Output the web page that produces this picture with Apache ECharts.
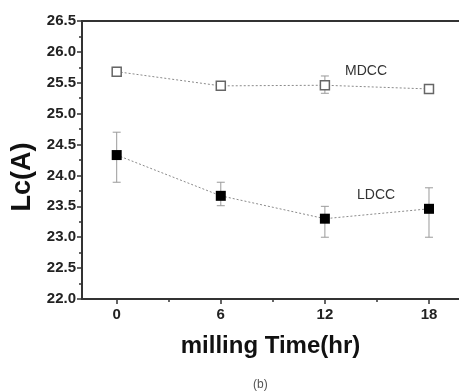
<!DOCTYPE html>
<html><head><meta charset="utf-8">
<script src="https://cdn.jsdelivr.net/npm/echarts@6/dist/echarts.min.js"></script>
<style>html,body{margin:0;padding:0;background:#fff}#c{width:459px;height:392px}</style>
</head><body><div id="c"></div>
<script>
const millingTime = [0, 6, 12, 18];
const mdcc = [25.68, 25.45, 25.46, 25.40];
const mdccLow = [25.62, 25.40, 25.33, 25.35];
const mdccHigh = [25.75, 25.52, 25.61, 25.45];
const ldcc = [24.33, 23.67, 23.30, 23.46];
const ldccLow = [23.89, 23.51, 23.00, 23.00];
const ldccHigh = [24.70, 23.89, 23.50, 23.80];
const xMajorTicks = [0, 6, 12, 18];
const xMinorTicks = [3, 9, 15];

const chart = echarts.init(document.getElementById('c'));
const pts = (ys) => millingTime.map((x, i) => [x, ys[i]]);
const errData = (lo, hi) => millingTime.map((x, i) => [x, lo[i], hi[i]]);
function errRender(params, api) {
  const x = api.value(0);
  const lo = api.coord([x, api.value(1)]);
  const hi = api.coord([x, api.value(2)]);
  const w = 4;
  const style = { stroke: '#9a9a9a', lineWidth: 1 };
  return { type: 'group', children: [
    { type: 'line', shape: { x1: lo[0], y1: lo[1], x2: hi[0], y2: hi[1] }, style },
    { type: 'line', shape: { x1: lo[0]-w, y1: lo[1], x2: lo[0]+w, y2: lo[1] }, style },
    { type: 'line', shape: { x1: hi[0]-w, y1: hi[1], x2: hi[0]+w, y2: hi[1] }, style }
  ]};
}
const labelFont = { fontFamily: 'Liberation Sans', fontWeight: 'bold', fontSize: 15, color: '#222' };
const XMIN = -2, XMAX = 19.73;
chart.setOption({
  animation: false,
  grid: { left: 82, top: 21, right: 0, bottom: 93 },
  xAxis: [{
    type: 'value', min: XMIN, max: XMAX,
    axisLine: { show: true, onZero: false, lineStyle: { color: '#333', width: 2 } },
    axisTick: { show: true, customValues: xMajorTicks, length: 5, lineStyle: { color: '#333', width: 1.5 } },
    axisLabel: Object.assign({ customValues: xMajorTicks, margin: 8 }, labelFont),
    splitLine: { show: false },
    name: 'milling Time(hr)', nameLocation: 'middle', nameGap: 35,
    nameTextStyle: { fontFamily: 'Liberation Sans', fontWeight: 'bold', fontSize: 24, color: '#111' }
  }, {
    type: 'value', min: XMIN, max: XMAX, position: 'bottom',
    axisLine: { show: false, onZero: false },
    axisTick: { show: true, customValues: xMinorTicks, length: 3, lineStyle: { color: '#333', width: 1.5 } },
    axisLabel: { show: false }, splitLine: { show: false }
  }, {
    type: 'value', min: XMIN, max: XMAX, position: 'top',
    axisLine: { show: true, onZero: false, lineStyle: { color: '#333', width: 2 } },
    axisTick: { show: false }, axisLabel: { show: false }, splitLine: { show: false }
  }],
  yAxis: {
    type: 'value', min: 22, max: 26.5, interval: 0.5,
    axisLine: { show: true, onZero: false, lineStyle: { color: '#333', width: 2 } },
    axisTick: { show: true, length: 5, lineStyle: { color: '#333', width: 1.5 } },
    minorTick: { show: true, splitNumber: 2, length: 3, lineStyle: { color: '#333', width: 1.5 } },
    axisLabel: Object.assign({ formatter: v => v.toFixed(1), margin: 6 }, labelFont),
    splitLine: { show: false }
  },
  series: [
    { type: 'custom', name: 'MDCC err', renderItem: errRender, data: errData(mdccLow, mdccHigh), z: 1 },
    { type: 'custom', name: 'LDCC err', renderItem: errRender, data: errData(ldccLow, ldccHigh), z: 1 },
    { type: 'line', name: 'MDCC', data: pts(mdcc), symbol: 'rect', symbolSize: 9, showAllSymbol: true,
      lineStyle: { color: '#8a8a8a', width: 1, type: [2, 2] },
      itemStyle: { color: '#fff', borderColor: '#666', borderWidth: 1.5 }, z: 3 },
    { type: 'line', name: 'LDCC', data: pts(ldcc), symbol: 'rect', symbolSize: 10, showAllSymbol: true,
      lineStyle: { color: '#8a8a8a', width: 1, type: [2, 2] },
      itemStyle: { color: '#000' }, z: 3 }
  ],
  graphic: [
    { type: 'text', x: 23, y: 177, rotation: Math.PI / 2,
      style: { text: 'Lc(A)', fontFamily: 'Liberation Sans', fontWeight: 'bold', fontSize: 27, fill: '#111', align: 'center', verticalAlign: 'middle' } },
    { type: 'text', left: 345, top: 64, style: { text: 'MDCC', fontFamily: 'Liberation Sans', fontSize: 14, fill: '#333' } },
    { type: 'text', left: 357, top: 188, style: { text: 'LDCC', fontFamily: 'Liberation Sans', fontSize: 14, fill: '#333' } },
    { type: 'text', left: 253, top: 379, style: { text: '(b)', fontFamily: 'Liberation Sans', fontSize: 12, fill: '#555' } }
  ]
});
</script></body></html>
